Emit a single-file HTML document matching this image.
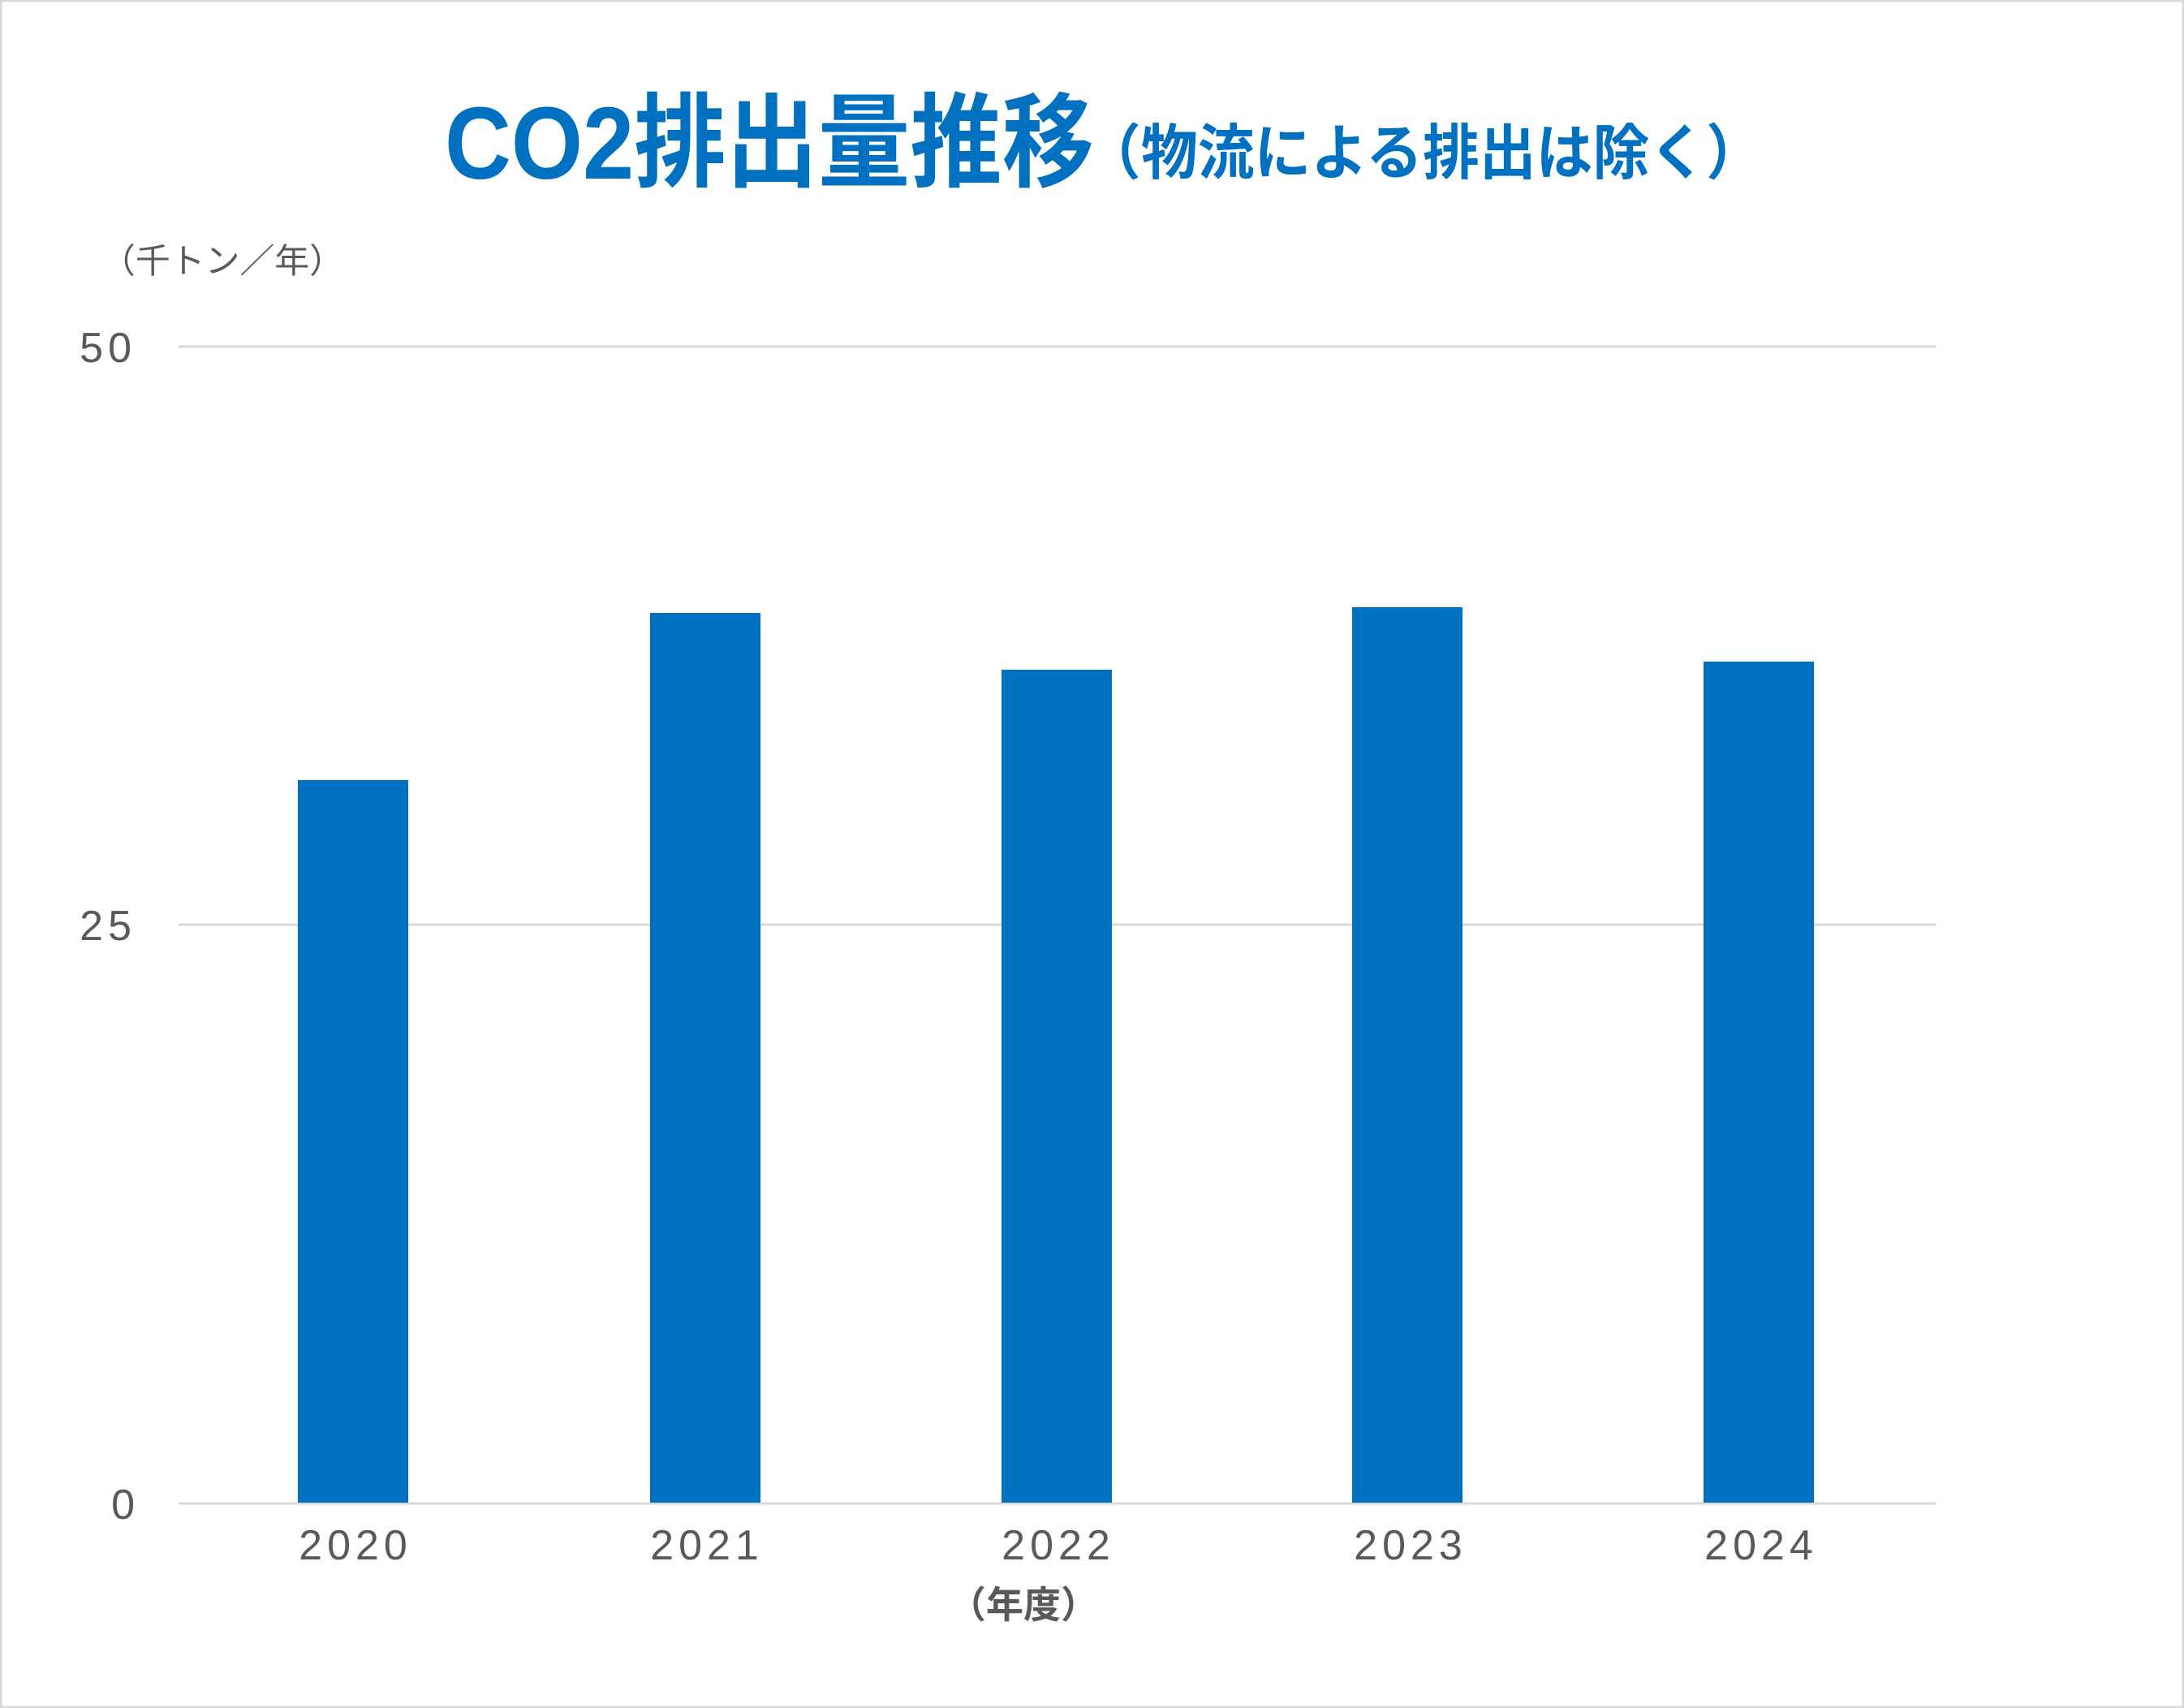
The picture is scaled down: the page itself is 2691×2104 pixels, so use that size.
<!DOCTYPE html>
<html><head><meta charset="utf-8"><style>
html,body{margin:0;padding:0;background:#fff}
svg{display:block}
</style></head><body>
<svg width="2691" height="2104" viewBox="0 0 2691 2104" xmlns="http://www.w3.org/2000/svg">
<rect x="1" y="1" width="2689" height="2102" fill="#fff" stroke="#d9d9d9" stroke-width="3"/>
<g font-family="'Liberation Sans','Noto Sans CJK JP',sans-serif" fill="#0070c0" font-weight="bold">
<text x="548" y="220" font-size="126" textLength="800" lengthAdjust="spacingAndGlyphs">CO2排出量推移</text>
<text x="1336" y="214" font-size="74" textLength="836" lengthAdjust="spacingAndGlyphs">（物流による排出は除く）</text>
</g>
<g font-family="'Liberation Sans','Noto Sans CJK JP',sans-serif" fill="#595959">
<text x="124" y="336" font-size="42" textLength="300" lengthAdjust="spacingAndGlyphs">（千トン／年）</text>
<text x="168" y="446" font-size="52" text-anchor="end" letter-spacing="6">50</text>
<text x="168" y="1158" font-size="52" text-anchor="end" letter-spacing="6">25</text>
<text x="166" y="1871" font-size="52" text-anchor="end">0</text>
<g font-size="52" text-anchor="middle" letter-spacing="6">
<text x="438" y="1921">2020</text>
<text x="871" y="1921">2021</text>
<text x="1304" y="1921">2022</text>
<text x="1738" y="1921">2023</text>
<text x="2170" y="1921">2024</text>
</g>
<text x="1261" y="1993" font-size="46" font-weight="bold" text-anchor="middle">（年度）</text>
</g>
<g stroke="#d9d9d9" stroke-width="3">
<line x1="220" y1="427" x2="2385" y2="427"/>
<line x1="220" y1="1139" x2="2385" y2="1139"/>
<line x1="220" y1="1852" x2="2385" y2="1852"/>
</g>
<g fill="#0070c0">
<rect x="367" y="961" width="136" height="890"/>
<rect x="801" y="755" width="136" height="1096"/>
<rect x="1234" y="825" width="136" height="1026"/>
<rect x="1666" y="748" width="136" height="1103"/>
<rect x="2099" y="815" width="136" height="1036"/>
</g>
</svg>
</body></html>
